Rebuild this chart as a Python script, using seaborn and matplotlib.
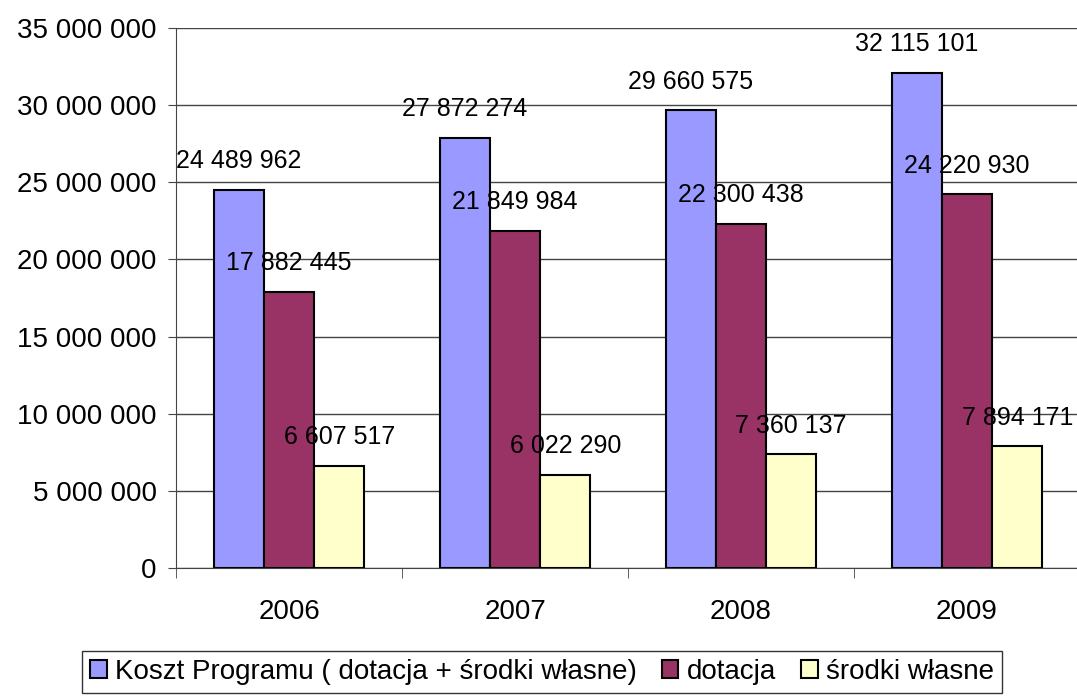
import matplotlib
matplotlib.use("Agg")
import matplotlib.pyplot as plt
import matplotlib.ticker as mticker
import seaborn as sns
import pandas as pd

years = ["2006", "2007", "2008", "2009"]
koszt = [24489962, 27872274, 29660575, 32115101]
dotacja = [17882445, 21849984, 22300438, 24220930]
srodki = [6607517, 6022290, 7360137, 7894171]
series_names = ["Koszt Programu ( dotacja + środki własne)", "dotacja", "środki własne"]
colors = ["#9999FF", "#993366", "#FFFFCC"]

df = pd.DataFrame({
    "rok": years * 3,
    "seria": [series_names[0]] * 4 + [series_names[1]] * 4 + [series_names[2]] * 4,
    "wartosc": koszt + dotacja + srodki,
})

sns.set_style("white")
plt.rcParams["font.family"] = ["Liberation Sans", "DejaVu Sans"]
plt.rcParams["text.color"] = "black"
plt.rcParams["xtick.color"] = "black"
plt.rcParams["ytick.color"] = "black"


def spaced(v, pos=None):
    return f"{int(round(v)):,}".replace(",", " ")


fig = plt.figure(figsize=(10.77, 6.96), dpi=100)
ax = fig.add_axes([176 / 1077, 128 / 696, 904 / 1077, 540 / 696])

sns.barplot(data=df, x="rok", y="wartosc", hue="seria", palette=colors, saturation=1,
            width=0.667, edgecolor="black", linewidth=1.5, ax=ax, legend=True)

ax.set_ylim(0, 35000000)
ax.set_yticks(range(0, 35000001, 5000000))
ax.yaxis.set_major_formatter(mticker.FuncFormatter(spaced))
ax.set_xlim(-0.5, 3.5)
ax.set_xlabel("")
ax.set_ylabel("")
ax.grid(axis="y", color="#444444", linewidth=1.0)
ax.set_axisbelow(True)
for side in ["top", "right"]:
    ax.spines[side].set_visible(False)
ax.spines["left"].set_color("#444444")
ax.spines["bottom"].set_color("#444444")
ax.tick_params(axis="y", labelsize=20, length=6, direction="out", left=True, color="#444444", pad=8)
ax.tick_params(axis="x", which="major", labelsize=20, length=0, pad=22)
ax.set_xticks([-0.5, 0.5, 1.5, 2.5, 3.5], minor=True)
ax.tick_params(axis="x", which="minor", length=7, direction="out", bottom=True, color="#444444")

for cont in ax.containers:
    ax.bar_label(cont, labels=[spaced(b.get_height()) for b in cont], padding=12,
                 fontsize=18, color="black", clip_on=False)

handles, labels = ax.get_legend_handles_labels()
ax.legend_.remove()
leg = fig.legend(handles, labels, loc="lower center", bbox_to_anchor=(542 / 1077, 0.0),
                 ncol=3, fontsize=20, frameon=True, fancybox=False, edgecolor="black",
                 handlelength=0.6, handleheight=0.6, handletextpad=0.3, columnspacing=0.9,
                 borderpad=0.3, borderaxespad=0.1)
leg.get_frame().set_linewidth(1.0)

fig.savefig("out.png", dpi=100)
